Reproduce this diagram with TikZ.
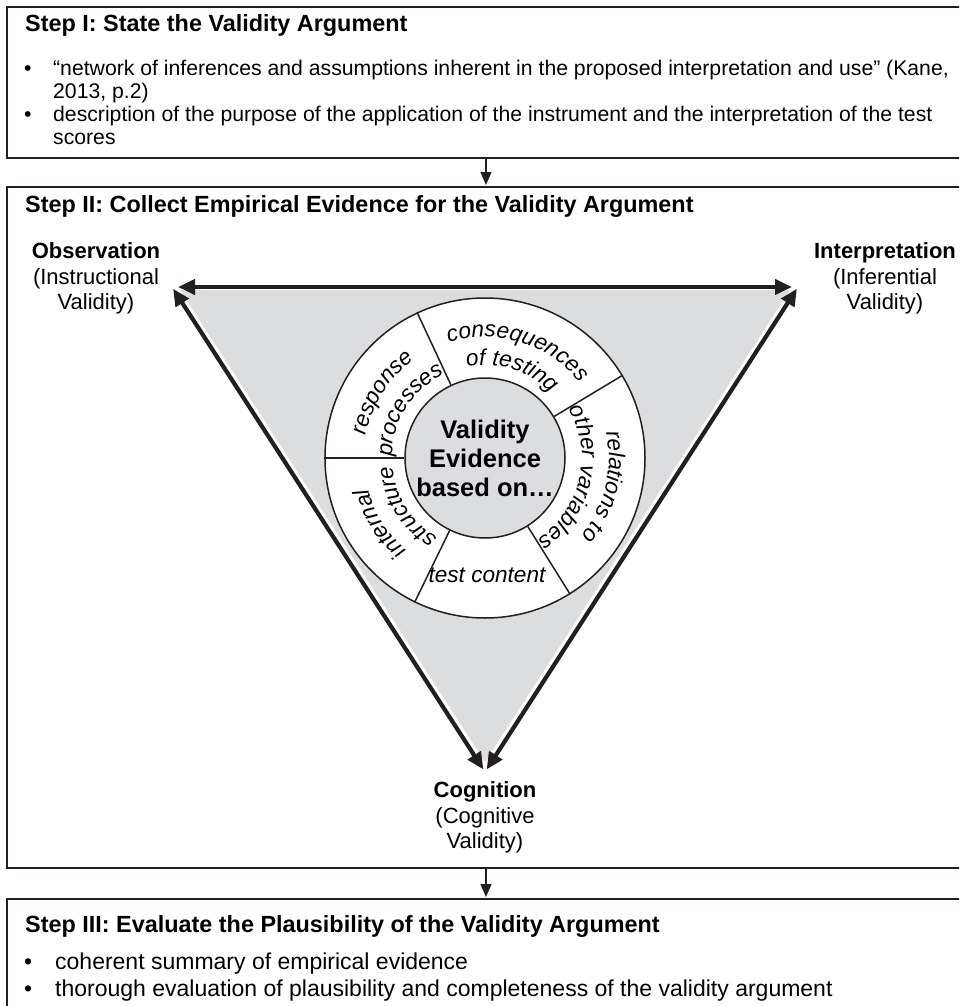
\documentclass[tikz,border=0pt]{standalone}
\usepackage{fontspec}
\setmainfont{Liberation Sans}
\usetikzlibrary{arrows.meta,decorations.text,calc}
\definecolor{ink}{HTML}{231F20}
\definecolor{fillgray}{HTML}{DCDDDE}
\begin{document}
\begin{tikzpicture}[x=1pt,y=1pt,
  panel/.style={draw=ink,line width=2pt,rectangle,inner sep=0pt,anchor=north west},
  flow/.style={draw=ink,line width=1.3pt,-{Triangle[length=13pt,width=11pt]},shorten >=1pt},
  side/.style={draw=ink,line width=4.2pt,{Triangle[length=17pt,width=15pt]}-{Triangle[length=17pt,width=15pt]}},
  ringline/.style={draw=ink,line width=1.5pt},
  heading/.style={anchor=base west,inner sep=0pt,font=\bfseries\fontsize{23.4}{26}\selectfont},
  listing/.style={anchor=base west,inner sep=0pt,font=\fontsize{21.2}{23}\selectfont},
  corner/.style={inner sep=0pt,font=\fontsize{22}{25.5}\selectfont},
  segment/.style={inner sep=0pt,font=\itshape\fontsize{22.6}{25}\selectfont},
  arcword/.style={decorate,decoration={text along path,text align=center,
    text={|\itshape\fontsize{22.6}{25}\selectfont|#1}}}
]
\path[use as bounding box] (0,0) rectangle (959,-1006);
\clip (0,0) rectangle (959,-1006);

% the three step panels
\node[panel,minimum width=980pt,minimum height=151pt] (stepone) at (6,-6) {};
\node[panel,minimum width=980pt,minimum height=681pt] (steptwo) at (6,-186) {};
\node[panel,minimum width=980pt,minimum height=140pt] (stepthree) at (6,-898) {};
\coordinate (axis) at (486,0);
\draw[flow] (stepone.south -| axis) -- (steptwo.north -| axis);
\draw[flow] (steptwo.south -| axis) -- (stepthree.north -| axis);

% Step I
\node[heading] (titleone) at (25,-32) {Step I: State the Validity Argument};
\node[listing] (listone) at (24,-76) {\begin{tabular}[t]{@{}p{29pt}@{}l@{}}
•&“network of inferences and assumptions inherent in the proposed interpretation and use” (Kane,\\
&2013, p.2)\\
•&description of the purpose of the application of the instrument and the interpretation of the test\\
&scores\end{tabular}};

% Step II
\node[heading] (titletwo) at (25,-212) {Step II: Collect Empirical Evidence for the Validity Argument};

% triangle of validity aspects
\coordinate (vobs) at (172,-287);
\coordinate (vint) at (798,-287);
\coordinate (vcog) at (485,-772);
\fill[fillgray] ($(vobs)+(8,-3)$) -- ($(vint)+(-8,-3)$) -- ($(vcog)+(0,10)$) -- cycle;
\draw[side,shorten <=6pt,shorten >=6pt] (vobs) -- (vint);
\draw[side,shorten <=2pt,shorten >=3pt] (vobs) -- (vcog);
\draw[side,shorten <=2pt,shorten >=3pt] (vint) -- (vcog);

\node[corner] (obslabel) at (96,-279) {\begin{tabular}{@{}c@{}}\textbf{Observation}\\(Instructional\\Validity)\end{tabular}};
\node[corner] (intlabel) at (885,-279) {\begin{tabular}{@{}c@{}}\textbf{Interpretation}\\(Inferential\\Validity)\end{tabular}};
\node[corner] (coglabel) at (485,-818) {\begin{tabular}{@{}c@{}}\textbf{Cognition}\\(Cognitive\\Validity)\end{tabular}};

% ring of evidence sources
\coordinate (hub) at (485,-458);
\node[circle,ringline,fill=white,minimum size=320pt,inner sep=0pt] (ring) at (hub) {};
\node[circle,ringline,fill=fillgray,minimum size=160pt,inner sep=0pt,align=center,
  font=\bfseries\fontsize{25.5}{29}\selectfont] (core) at (hub) {Validity\\Evidence\\based on…};
\foreach \a in {115,31,-58,-116,180} \draw[ringline] (core.\a) -- (ring.\a);

\path[arcword={consequences}] ($(hub)+(143:121)$) arc[start angle=143,end angle=3,radius=121];
\path[arcword={of testing}] ($(hub)+(143:93)$) arc[start angle=143,end angle=3,radius=93];
\path[arcword={relations to}] ($(hub)+(56.5:124)$) arc[start angle=56.5,end angle=-83.5,radius=124];
\path[arcword={other variables}] ($(hub)+(56.5:97)$) arc[start angle=56.5,end angle=-83.5,radius=97];
\path[arcword={internal}] ($(hub)+(282:121)$) arc[start angle=282,end angle=142,radius=121];
\path[arcword={structure}] ($(hub)+(282:93)$) arc[start angle=282,end angle=142,radius=93];
\path[arcword={response}] ($(hub)+(217.5:121)$) arc[start angle=217.5,end angle=77.5,radius=121];
\path[arcword={processes}] ($(hub)+(217.5:93)$) arc[start angle=217.5,end angle=77.5,radius=93];
\node[segment] (testcontent) at (487,-575) {test content};

% Step III
\node[heading] (titlethree) at (25,-932) {Step III: Evaluate the Plausibility of the Validity Argument};
\node[listing,font=\fontsize{23}{27}\selectfont] (listthree) at (24,-969) {\begin{tabular}[t]{@{}p{31pt}@{}l@{}}
•&coherent summary of empirical evidence\\
•&thorough evaluation of plausibility and completeness of the validity argument\end{tabular}};
\end{tikzpicture}
\end{document}
